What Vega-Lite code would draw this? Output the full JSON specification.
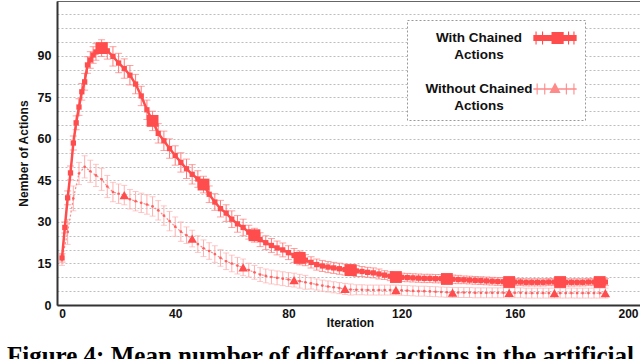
{
  "$schema": "https://vega.github.io/schema/vega-lite/v6.json",
  "width": 583,
  "height": 304,
  "autosize": {"type": "none"},
  "padding": {"left": 57, "top": 1, "right": 0, "bottom": 54},
  "background": "white",
  "config": {"view": {"stroke": "#666", "strokeWidth": 1}, "font": "Liberation Sans"},
  "title": {"text": "Figure 4: Mean number of different actions in the artificial", "orient": "bottom", "anchor": "start", "frame": "group", "dx": -50, "offset": 16, "font": "Liberation Serif", "fontSize": 25, "fontWeight": "bold", "color": "black"},
  "datasets": {
    "with": [
      {"i":0,"v":17,"e":1.5},{"i":1,"v":28,"e":2},{"i":2,"v":38.7,"e":2.5},{"i":3,"v":47.7,"e":2.5},{"i":4,"v":58.5,"e":2.5},{"i":5,"v":65.8,"e":2.5},{"i":6,"v":71.5,"e":3},{"i":7,"v":77,"e":3},{"i":8,"v":80.6,"e":3},{"i":9,"v":86.7,"e":3},{"i":10,"v":88.5,"e":3},{"i":11,"v":90.3,"e":3},{"i":12,"v":91.4,"e":3},{"i":14,"v":92.8,"e":3},{"i":16,"v":91.8,"e":3},{"i":18,"v":89.8,"e":3.5},{"i":20,"v":87.4,"e":3.5},{"i":22,"v":85.4,"e":3.5},{"i":24,"v":83,"e":3.5},{"i":26,"v":79.8,"e":3.5},{"i":28,"v":75.5,"e":3.5},{"i":30,"v":70.5,"e":3.5},{"i":32,"v":66.5,"e":3.5},{"i":34,"v":62,"e":3.5},{"i":36,"v":59.3,"e":3.5},{"i":38,"v":56.5,"e":3.5},{"i":40,"v":54,"e":3.5},{"i":42,"v":51.5,"e":3.5},{"i":44,"v":49.2,"e":3.5},{"i":46,"v":47.2,"e":3.5},{"i":48,"v":45.5,"e":3},{"i":50,"v":43.5,"e":3},{"i":52,"v":40,"e":3},{"i":54,"v":37.2,"e":3},{"i":56,"v":34.8,"e":3},{"i":58,"v":33.2,"e":3},{"i":60,"v":31,"e":3},{"i":62,"v":29.3,"e":3},{"i":64,"v":28,"e":3},{"i":66,"v":26.3,"e":2.5},{"i":68,"v":25.2,"e":2.5},{"i":70,"v":23.6,"e":2.5},{"i":72,"v":22.5,"e":2.5},{"i":74,"v":21.5,"e":2.5},{"i":76,"v":20.6,"e":2.5},{"i":78,"v":19.9,"e":2.5},{"i":80,"v":18.9,"e":2.5},{"i":82,"v":17.9,"e":2.5},{"i":84,"v":17,"e":2.5},{"i":86,"v":16.2,"e":2},{"i":88,"v":15.4,"e":2},{"i":90,"v":14.6,"e":2},{"i":92,"v":14.1,"e":2},{"i":94,"v":13.7,"e":2},{"i":96,"v":13.4,"e":2},{"i":98,"v":13.1,"e":2},{"i":100,"v":12.8,"e":2},{"i":102,"v":12.6,"e":2},{"i":104,"v":12.3,"e":2},{"i":106,"v":12.1,"e":1.8},{"i":108,"v":11.8,"e":1.8},{"i":110,"v":11.6,"e":1.8},{"i":112,"v":11.2,"e":1.8},{"i":114,"v":10.8,"e":1.6},{"i":116,"v":10.4,"e":1.6},{"i":118,"v":10.1,"e":1.6},{"i":120,"v":10,"e":1.5},{"i":122,"v":9.9,"e":1.5},{"i":124,"v":9.8,"e":1.5},{"i":126,"v":9.7,"e":1.5},{"i":128,"v":9.6,"e":1.5},{"i":130,"v":9.6,"e":1.5},{"i":132,"v":9.5,"e":1.5},{"i":134,"v":9.5,"e":1.5},{"i":136,"v":9.4,"e":1.5},{"i":138,"v":9.3,"e":1.5},{"i":140,"v":9.2,"e":1.5},{"i":142,"v":9.1,"e":1.4},{"i":144,"v":9,"e":1.4},{"i":146,"v":8.9,"e":1.4},{"i":148,"v":8.8,"e":1.4},{"i":150,"v":8.7,"e":1.4},{"i":152,"v":8.6,"e":1.4},{"i":154,"v":8.5,"e":1.4},{"i":156,"v":8.4,"e":1.4},{"i":158,"v":8.3,"e":1.4},{"i":160,"v":8.3,"e":1.3},{"i":162,"v":8.3,"e":1.3},{"i":164,"v":8.2,"e":1.3},{"i":166,"v":8.2,"e":1.3},{"i":168,"v":8.2,"e":1.3},{"i":170,"v":8.2,"e":1.3},{"i":172,"v":8.3,"e":1.3},{"i":174,"v":8.3,"e":1.3},{"i":176,"v":8.3,"e":1.3},{"i":178,"v":8.2,"e":1.3},{"i":180,"v":8.2,"e":1.3},{"i":182,"v":8.2,"e":1.3},{"i":184,"v":8.2,"e":1.3},{"i":186,"v":8.3,"e":1.3},{"i":188,"v":8.3,"e":1.3},{"i":190,"v":8.3,"e":1.3},{"i":192,"v":8.3,"e":1.3}
    ],
    "without": [
      {"i":0,"v":16.3,"e":2},{"i":2,"v":26.4,"e":4.5},{"i":4,"v":38.5,"e":4.5},{"i":6,"v":47.5,"e":4},{"i":8,"v":49.9,"e":4},{"i":10,"v":48.3,"e":4},{"i":12,"v":46.8,"e":4},{"i":14,"v":45.4,"e":4},{"i":16,"v":42.8,"e":4},{"i":18,"v":40.8,"e":3.5},{"i":20,"v":40.2,"e":3.5},{"i":22,"v":39.7,"e":3.5},{"i":24,"v":38.2,"e":3.5},{"i":26,"v":37.5,"e":3.5},{"i":28,"v":36.9,"e":3.5},{"i":30,"v":36.3,"e":3.5},{"i":32,"v":35.6,"e":3.5},{"i":34,"v":34.2,"e":3.5},{"i":36,"v":32.3,"e":3.5},{"i":38,"v":30.3,"e":3.5},{"i":40,"v":28.3,"e":3.5},{"i":42,"v":26.5,"e":3.5},{"i":44,"v":25.2,"e":3},{"i":46,"v":24,"e":3},{"i":48,"v":22,"e":3},{"i":50,"v":20.5,"e":3},{"i":52,"v":19.5,"e":3},{"i":54,"v":18.4,"e":3},{"i":56,"v":17,"e":3},{"i":58,"v":15.8,"e":3},{"i":60,"v":15,"e":3},{"i":62,"v":14.2,"e":3},{"i":64,"v":13.6,"e":3},{"i":66,"v":12.6,"e":2.5},{"i":68,"v":11.8,"e":2.5},{"i":70,"v":11,"e":2.5},{"i":72,"v":10.5,"e":2.5},{"i":74,"v":10.1,"e":2.5},{"i":76,"v":9.8,"e":2.5},{"i":78,"v":9.5,"e":2.5},{"i":80,"v":9.2,"e":2.5},{"i":82,"v":9,"e":2.5},{"i":84,"v":8.6,"e":2.5},{"i":86,"v":8.2,"e":2.5},{"i":88,"v":7.8,"e":2},{"i":90,"v":7.4,"e":2},{"i":92,"v":7,"e":2},{"i":94,"v":6.7,"e":2},{"i":96,"v":6.4,"e":2},{"i":98,"v":6.1,"e":2},{"i":100,"v":5.8,"e":2},{"i":102,"v":5.6,"e":2},{"i":104,"v":5.5,"e":1.8},{"i":106,"v":5.5,"e":1.8},{"i":108,"v":5.4,"e":1.8},{"i":110,"v":5.4,"e":1.8},{"i":112,"v":5.4,"e":1.8},{"i":114,"v":5.4,"e":1.8},{"i":116,"v":5.4,"e":1.8},{"i":118,"v":5.4,"e":1.8},{"i":120,"v":5.3,"e":1.8},{"i":122,"v":5.2,"e":1.8},{"i":124,"v":5.1,"e":1.8},{"i":126,"v":5,"e":1.8},{"i":128,"v":5,"e":1.8},{"i":130,"v":4.9,"e":1.8},{"i":132,"v":4.8,"e":1.8},{"i":134,"v":4.7,"e":1.8},{"i":136,"v":4.6,"e":1.8},{"i":138,"v":4.5,"e":1.8},{"i":140,"v":4.5,"e":1.8},{"i":142,"v":4.5,"e":1.8},{"i":144,"v":4.5,"e":1.8},{"i":146,"v":4.4,"e":1.8},{"i":148,"v":4.4,"e":1.8},{"i":150,"v":4.4,"e":1.8},{"i":152,"v":4.4,"e":1.8},{"i":154,"v":4.4,"e":1.8},{"i":156,"v":4.4,"e":1.8},{"i":158,"v":4.4,"e":1.8},{"i":160,"v":4.4,"e":1.8},{"i":162,"v":4.4,"e":1.8},{"i":164,"v":4.3,"e":1.8},{"i":166,"v":4.3,"e":1.8},{"i":168,"v":4.3,"e":1.8},{"i":170,"v":4.3,"e":1.8},{"i":172,"v":4.3,"e":1.8},{"i":174,"v":4.3,"e":1.8},{"i":176,"v":4.3,"e":1.8},{"i":178,"v":4.3,"e":1.8},{"i":180,"v":4.3,"e":1.8},{"i":182,"v":4.3,"e":1.8},{"i":184,"v":4.3,"e":1.8},{"i":186,"v":4.3,"e":1.8},{"i":188,"v":4.3,"e":1.8},{"i":190,"v":4.3,"e":1.8},{"i":192,"v":4.3,"e":1.8}
    ]
  },
  "encoding": {
    "x": {"field": "i", "type": "quantitative", "scale": {"domain": [-1.77, 204.24], "nice": false, "zero": false},
      "axis": {"title": "Iteration", "values": [0, 40, 80, 120, 160, 200], "grid": false, "ticks": false, "domainColor": "#333", "domainWidth": 2, "labelFont": "Liberation Sans", "labelFontWeight": "bold", "labelFontSize": 12, "labelColor": "#111", "labelPadding": 3, "labelFlush": false, "titleFont": "Liberation Sans", "titleFontWeight": "bold", "titleFontSize": 12, "titleColor": "#111", "titleX": 293, "titleY": 17, "titleBaseline": "middle"}},
    "y": {"field": "v", "type": "quantitative", "scale": {"domain": [0, 109.8], "nice": false},
      "axis": {"title": "Nember of Actions", "values": [0,5,10,15,20,25,30,35,40,45,50,55,60,65,70,75,80,85,90,95,100,105], "labelExpr": "datum.value % 15 === 0 && datum.value <= 90 ? datum.label : ''", "grid": true, "gridColor": "#bdbdbd", "gridDash": [2, 2], "gridWidth": 1, "ticks": false, "domainColor": "#333", "domainWidth": 2, "labelFont": "Liberation Sans", "labelFontWeight": "bold", "labelFontSize": 12.5, "labelColor": "#111", "labelPadding": 6, "titleFont": "Liberation Sans", "titleFontWeight": "bold", "titleFontSize": 12, "titleColor": "#111", "titlePadding": 7}}
  },
  "layer": [
    {"data": {"name": "without"}, "mark": {"type": "errorbar", "ticks": {"size": 6}, "rule": {"strokeWidth": 1}, "color": "#FFB0B0"}, "encoding": {"yError": {"field": "e"}}},
    {"data": {"name": "without"}, "mark": {"type": "line", "strokeWidth": 1.2, "strokeDash": [2, 2]},
      "encoding": {"color": {"datum": "Without Chained Actions", "type": "nominal",
        "scale": {"domain": ["With Chained Actions", "Without Chained Actions"], "range": ["#FF4D4D", "#FF8A8A"]},
        "legend": {"orient": "none", "legendX": 350, "legendY": 19, "title": null,
          "labelExpr": "datum.value === 'With Chained Actions' ? ['With Chained', 'Actions'] : ['Without Chained', 'Actions']",
          "labelFont": "Liberation Sans", "labelFontWeight": "bold", "labelFontSize": 13.5, "labelColor": "#111", "labelAlign": "center", "labelBaseline": "middle", "labelOffset": -86, "symbolOffset": 130,
          "symbolSize": 400, "symbolStrokeWidth": 0, "padding": 8, "rowPadding": 18, "strokeColor": "#999", "fillColor": "white",
          "encode": {
            "legend": {"update": {"strokeDash": {"value": [2, 2]}}},
            "symbols": {"update": {
              "shape": {"signal": "datum.value === 'With Chained Actions' ? 'M-2.165,-0.3H2.165V0.3H-2.165Z M-0.35,-0.6H0.87V0.6H-0.35Z M-1.95,-0.65H-1.84V0.65H-1.95Z M-1.3,-0.65H-1.19V0.65H-1.3Z M1.3,-0.65H1.41V0.65H1.3Z M1.84,-0.65H1.95V0.65H1.84Z' : 'M-2.165,-0.065H2.165V0.065H-2.165Z M0,-0.65L0.56,0.39H-0.56Z M-1.84,-0.54H-1.73V0.54H-1.84Z M-1.08,-0.54H-0.97V0.54H-1.08Z M1.08,-0.54H1.19V0.54H1.08Z M1.84,-0.54H1.95V0.54H1.84Z'"},
              "fill": {"signal": "datum.value === 'With Chained Actions' ? '#FF4D4D' : '#FF8A8A'"},
              "stroke": {"value": "transparent"}, "opacity": {"value": 1}}},
            "labels": {"update": {"lineHeight": {"value": 16.5}}}
          }}}}},
    {"data": {"name": "without"}, "mark": {"type": "circle", "size": 7, "color": "#FF6060", "opacity": 1}},
    {"data": {"name": "without"}, "transform": [{"filter": {"field": "i", "oneOf": [22, 46, 64, 82, 100, 118, 138, 158, 174, 192]}}], "mark": {"type": "point", "shape": "triangle-up", "filled": true, "size": 90, "color": "#FF4D4D", "opacity": 1}},
    {"data": {"name": "with"}, "mark": {"type": "errorbar", "ticks": {"size": 7}, "rule": {"strokeWidth": 1}, "color": "#FF7A7A"}, "encoding": {"yError": {"field": "e"}}},
    {"data": {"name": "with"}, "mark": {"type": "line", "strokeWidth": 2.5}, "encoding": {"color": {"datum": "With Chained Actions", "type": "nominal"}}},
    {"data": {"name": "with"}, "mark": {"type": "square", "size": 28, "color": "#FF4D4D", "opacity": 1}},
    {"data": {"name": "with"}, "transform": [{"filter": {"field": "i", "oneOf": [14, 32, 50, 68, 84, 102, 118, 136, 158, 176, 190]}}], "mark": {"type": "square", "size": 140, "color": "#FF4D4D", "opacity": 1}}
  ]
}
